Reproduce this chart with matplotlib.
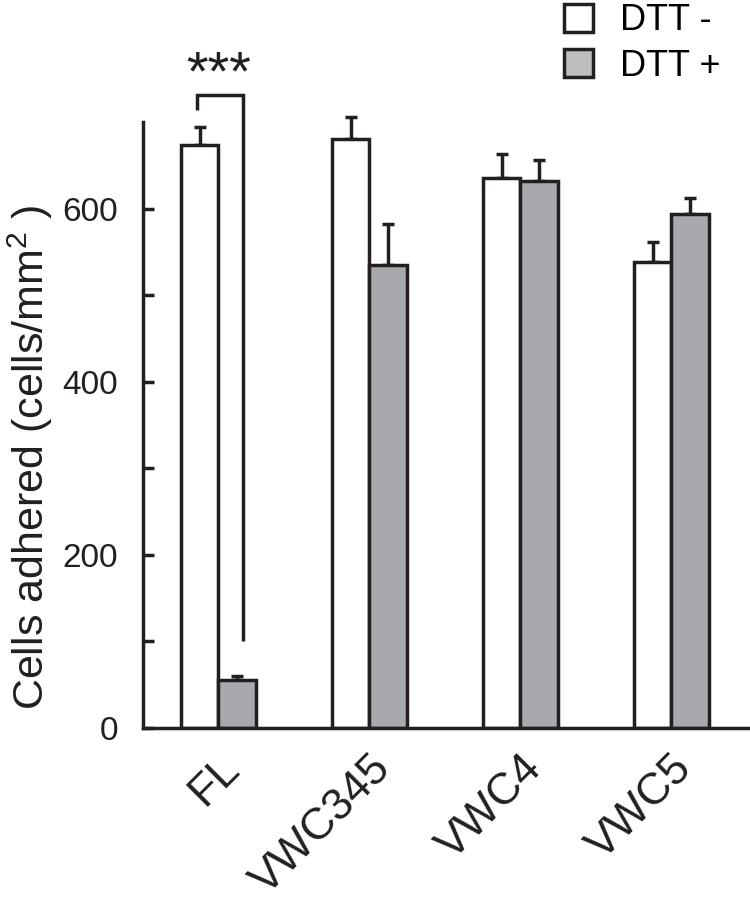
import numpy as np
import matplotlib
matplotlib.use("Agg")
from matplotlib import pyplot as plt
from matplotlib.patches import Patch
from matplotlib.transforms import ScaledTranslation

plt.rcParams["font.family"] = ["Liberation Sans", "DejaVu Sans"]
plt.rcParams["mathtext.fontset"] = "custom"
plt.rcParams["mathtext.rm"] = "Liberation Sans"

# data
groups = ["FL", "VWC345", "VWC4", "VWC5"]
dtt_minus = [673, 680, 635, 538]
dtt_minus_err = [21, 26, 28, 23]
dtt_plus = [56, 535, 632, 594]
dtt_plus_err = [4, 47, 24, 18]
sig_label = "***"

ink = "#231f20"
gray = "#a7a9ac"
gray_legend = "#bcbec0"
lw = 2.5

fig = plt.figure(figsize=(7.5, 9.08), dpi=100)
ax = fig.add_axes([143 / 750, 180 / 908, 610 / 750, 606 / 908])

x = np.arange(len(groups))
w = 0.25
ax.bar(x - w / 2, dtt_minus, w, color="white", edgecolor=ink, linewidth=lw, zorder=2)
ax.bar(x + w / 2, dtt_plus, w, color=gray, edgecolor=ink, linewidth=lw, zorder=2)
for xs, m, e in [(x - w / 2, dtt_minus, dtt_minus_err), (x + w / 2, dtt_plus, dtt_plus_err)]:
    eb = ax.errorbar(xs, m, yerr=[np.zeros(4), e], fmt="none", ecolor=ink,
                     elinewidth=lw, capsize=4.5, capthick=lw, zorder=1)
    for art in eb.lines[1] + eb.lines[2]:
        art.set_clip_on(False)

# significance bracket on FL
xl = x[0] - w / 2 - 0.02
xr = x[0] + w / 2 + 0.04
y_top = 731
y_left = dtt_minus[0] + dtt_minus_err[0] + 20
y_right = dtt_plus[0] + dtt_plus_err[0] + 40
ax.plot([xl, xl, xr, xr], [y_left, y_top, y_top, y_right], color=ink, lw=lw,
        clip_on=False, solid_capstyle="butt", solid_joinstyle="miter")
ax.text(x[0], 754, sig_label, ha="center", va="center", fontsize=40, color=ink,
        clip_on=False)

ax.set_xlim(-0.5, 3.54)
ax.set_ylim(0, 700)
ax.set_yticks([0, 200, 400, 600])
ax.set_yticks([100, 300, 500], minor=True)
ax.set_xticks(x)
ax.set_xticklabels(groups, rotation=45, ha="right", va="top", rotation_mode="anchor")
for i, lab in enumerate(ax.get_xticklabels()):
    # the FL label sits a little higher / further left in the original
    dx, dy = (4, 12) if i == 0 else (10, 0)
    lab.set_transform(lab.get_transform() + ScaledTranslation(dx / 72, dy / 72, fig.dpi_scale_trans))

for s in ["top", "right"]:
    ax.spines[s].set_visible(False)
for s in ["left", "bottom"]:
    ax.spines[s].set_linewidth(lw)
    ax.spines[s].set_color(ink)
ax.tick_params(axis="y", which="both", direction="in", length=8, width=lw, color=ink,
               labelsize=24, pad=18, labelcolor=ink)
ax.tick_params(axis="x", length=0, labelsize=32, pad=14, labelcolor=ink)

ax.set_ylabel(r"Cells adhered (cells/mm$^\mathregular{2}$ )", fontsize=31, color=ink)
ax.yaxis.set_label_coords(-0.145, 0.447)

handles = [Patch(facecolor="white", edgecolor=ink, linewidth=lw),
           Patch(facecolor=gray_legend, edgecolor=ink, linewidth=lw)]
fig.legend(handles, ["DTT -", "DTT +"], loc="upper left", bbox_to_anchor=(539 / 750, 1.024),
           frameon=False, fontsize=26, handlelength=0.8, handleheight=0.8,
           handletextpad=0.75, labelspacing=0.28, borderpad=0.2)

fig.savefig("out.png", dpi=100)
